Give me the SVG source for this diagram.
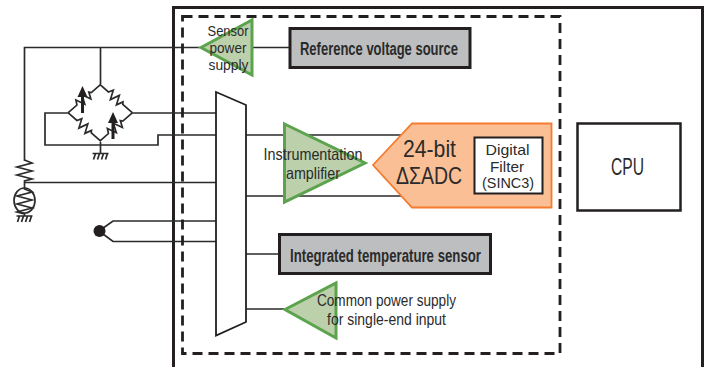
<svg xmlns="http://www.w3.org/2000/svg" width="715" height="367" viewBox="0 0 715 367">
<style>
.w{fill:none;stroke:#2b2b2b;stroke-width:1.7;stroke-linejoin:miter}
.g{fill:#bcd0ac;stroke:#5ba34c;stroke-width:3}
.b{fill:#bcbec0;stroke:#231f20;stroke-width:3}
.o{fill:#fff;stroke:#231f20;stroke-width:2}
.t{font-family:"Liberation Sans",Arial,sans-serif;fill:#2b2b2b;text-anchor:start}
.s{font-size:16.500px}
.n{font-size:14.500px}
.h{font-size:17.500px;font-weight:bold}
.l{font-size:24px}
</style>
<defs>
<path id="res" class="w" d="M-21.500,0H-10L-7.500,-4.500L-3.500,4.500L0.500,-4.500L4.500,4.500L7.500,-2L9,0H21.500"/>
<g id="arrow"><path d="M0,5V27" fill="none" stroke="#231f20" stroke-width="3"/><path d="M0,0L5,11H-5Z" fill="#231f20"/></g>
<path id="gnd" class="w" d="M-8,0H8M-5,0L-7,6M-1,0L-3,6M3,0L1,6M7,0L5,6"/>
</defs>
<g id="outer"><path d="M173.500,367V7.500H702.500V367" fill="none" stroke="#231f20" stroke-width="3"/></g>
<g id="connectors">
<path class="w" d="M24.500,161V47.500H200M100.500,47.500V84"/>
<path class="w" d="M69,113H45V145H158V135H216M132,113H216M100.500,142V153"/>
<path class="w" d="M24.500,182.500H216"/>
<path class="w" d="M99,231L113,221H216M99,231L113,241.500H216"/>
<path class="w" d="M246,135H412M246,196H412"/>
<path class="w" d="M252,47.500H289M246,254H279M246,309H284"/>
</g>
<g id="boundary"><rect x="182.500" y="16.500" width="377.500" height="337" fill="none" stroke="#231f20" stroke-width="2.800" stroke-dasharray="10 6"/></g>
<g id="bridge">
<use href="#res" transform="translate(116,98.500) rotate(41)"/>
<use href="#res" transform="translate(84.500,98.500) rotate(-41)"/>
<use href="#res" transform="translate(84.500,127) rotate(41)"/>
<use href="#res" transform="translate(116,127) rotate(-41)"/>
<use href="#arrow" transform="translate(82.500,86)"/>
<use href="#arrow" transform="translate(113,112)"/>
<use href="#gnd" transform="translate(100.500,153.500)"/>
</g>
<g id="rtd">
<path class="w" d="M24.500,160L32,163L17,167L32,171L17,175L32,179L24.500,181V183"/>
<ellipse class="w" cx="24.500" cy="200.500" rx="10.500" ry="12.500"/>
<path class="w" d="M24.500,183V189L32,192L17,196L32,200L17,204L32,208L17,212L24.500,214V216"/>
<use href="#gnd" transform="translate(24.500,216)"/>
</g>
<g id="thermocouple"><circle cx="99.500" cy="231" r="6" fill="#231f20"/></g>
<g id="mux"><path d="M216,92L246,105V322L216,335.500Z" fill="#fff" stroke="#231f20" stroke-width="1.800"/></g>
<g id="sensor-power">
<path class="g" d="M201,47.500L252,20V75Z"/>
<text class="t n" x="207.500" y="36" textLength="41" lengthAdjust="spacingAndGlyphs">Sensor</text>
<text class="t n" x="209.500" y="53" textLength="37" lengthAdjust="spacingAndGlyphs">power</text>
<text class="t n" x="208.500" y="69.500" textLength="40" lengthAdjust="spacingAndGlyphs">supply</text>
</g>
<g id="reference">
<rect class="b" x="290" y="28.500" width="180" height="39"/>
<text class="t h" x="300" y="55" textLength="158" lengthAdjust="spacingAndGlyphs">Reference voltage source</text>
</g>
<g id="amplifier">
<path class="g" d="M284.500,124L365,163L284.500,202Z"/>
<text class="t s" x="263.500" y="160" textLength="99" lengthAdjust="spacingAndGlyphs">Instrumentation</text>
<text class="t s" x="286" y="179" textLength="54" lengthAdjust="spacingAndGlyphs">amplifier</text>
</g>
<g id="adc">
<path d="M373,165L412,123.500H551.500V207.500H412Z" fill="#fbbf96" stroke="#f47b30" stroke-width="1.800"/>
<text class="t l" x="403" y="157" textLength="53" lengthAdjust="spacingAndGlyphs">24-bit</text>
<text class="t l" x="396" y="184" textLength="66" lengthAdjust="spacingAndGlyphs">ΔΣADC</text>
<rect class="o" x="474.500" y="137.500" width="68" height="56"/>
<text class="t n" x="485.500" y="155" textLength="44" lengthAdjust="spacingAndGlyphs">Digital</text>
<text class="t n" x="490" y="171.500" textLength="34" lengthAdjust="spacingAndGlyphs">Filter</text>
<text class="t n" x="482" y="188" textLength="52" lengthAdjust="spacingAndGlyphs">(SINC3)</text>
</g>
<g id="cpu">
<rect x="577.500" y="123.500" width="103" height="87" fill="#fff" stroke="#231f20" stroke-width="2.500"/>
<text class="t" font-size="24" x="611" y="174.500" textLength="33" lengthAdjust="spacingAndGlyphs">CPU</text>
</g>
<g id="temperature">
<rect class="b" x="279.500" y="234.500" width="211" height="39"/>
<text class="t h" x="290" y="262" textLength="191" lengthAdjust="spacingAndGlyphs">Integrated temperature sensor</text>
</g>
<g id="common-power">
<path class="g" d="M285,309.500L336,283V338Z"/>
<text class="t s" x="317" y="306" textLength="139" lengthAdjust="spacingAndGlyphs">Common power supply</text>
<text class="t s" x="327" y="325" textLength="119" lengthAdjust="spacingAndGlyphs">for single-end input</text>
</g>
</svg>
